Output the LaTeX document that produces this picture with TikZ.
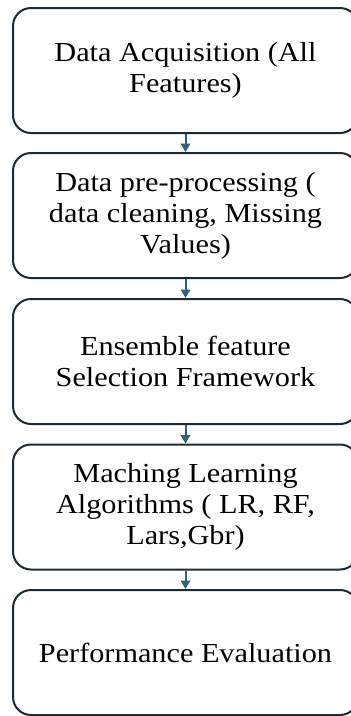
\documentclass[tikz,border=0pt]{standalone}
\usepackage{fontspec}
\setmainfont[FakeStretch=1.1]{Liberation Serif}
\usetikzlibrary{arrows.meta}
\definecolor{boxline}{HTML}{1C2A33}
\definecolor{arrowcol}{HTML}{2F5F7A}
\begin{document}
\begin{tikzpicture}[x=1pt,y=-1pt,
  flowbox/.style={draw=boxline, line width=2pt, rounded corners=18pt,
    minimum width=345pt, minimum height=125pt, align=center,
    font=\fontsize{27.5}{31}\selectfont, inner sep=0pt},
  flowarrow/.style={draw=arrowcol, line width=2pt,
    -{Triangle[width=9.5pt,length=8.5pt]}}]
\useasboundingbox (0,0) rectangle (351,716);
\node[flowbox] (b1) at (185.5,70.5) {Data Acquisition (All\\Features)};
\node[flowbox] (b2) at (185.5,215.5) {Data pre-processing (\\data cleaning, Missing\\Values)};
\node[flowbox] (b3) at (185.5,361.5) {Ensemble feature\\Selection Framework};
\node[flowbox] (b4) at (185.5,507) {Maching Learning\\Algorithms ( LR, RF,\\Lars,Gbr)};
\node[flowbox] (b5) at (185.5,652.5) {Performance Evaluation};
\draw[flowarrow] (b1.south) -- (b2.north);
\draw[flowarrow] (b2.south) -- (b3.north);
\draw[flowarrow] (b3.south) -- (b4.north);
\draw[flowarrow] (b4.south) -- (b5.north);
\end{tikzpicture}
\end{document}
